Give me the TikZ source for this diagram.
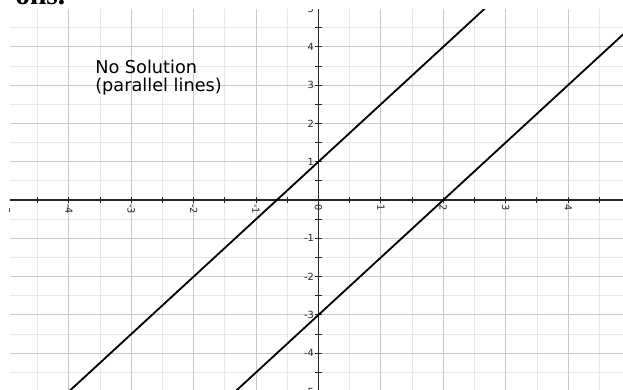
\documentclass[tikz,border=0pt]{standalone}
\usepackage{fontspec}
\setmainfont{Liberation Serif}
\newfontfamily\labelfont{DejaVu Sans}
\usetikzlibrary{positioning, calc}
\tikzset{
    minorgrid/.style={gray!18, line width=0.55pt},
    majorgrid/.style={gray!42, line width=0.7pt},
    axis/.style={black!85, line width=1.3pt},
    tickmark/.style={black!85, line width=0.6pt},
    graphline/.style={black, line width=1.3pt},
    ticklabel/.style={font=\labelfont\fontsize{7}{8}\selectfont, text=black!85, inner sep=0pt},
    note/.style={font=\labelfont\fontsize{12.6}{12.8}\selectfont, align=left, inner sep=0pt}
}

\begin{document}
\begin{tikzpicture}[x=1.56cm, y=0.9575cm]
        \useasboundingbox (-5.104,-4.935) rectangle (4.880,5.222);
        \clip (-5.104,-4.935) rectangle (4.880,5.222);
        \node [anchor=base west, inner sep=0pt, font=\bfseries\fontsize{21}{23}\selectfont] (pagetext) at (-4.864,5.10) {ons.};
        \begin{scope}
            \clip (-4.944,-4.935) rectangle (4.880,4.961);
            \foreach \x in {-5.5,-4.5,...,4.5} \draw [minorgrid] (\x,-6) -- (\x,6);
            \foreach \y in {-5.5,-4.5,...,5.5} \draw [minorgrid] (-6,\y) -- (6,\y);
            \foreach \x in {-5,...,5} \draw [majorgrid] (\x,-6) -- (\x,6);
            \foreach \y in {-5,...,5} \draw [majorgrid] (-6,\y) -- (6,\y);
            \draw [axis] (-6,0) -- (6,0);
            \draw [axis] (0,-6) -- (0,6);
            \foreach \x in {-5,-4.5,...,5} \draw [tickmark] (\x,-0.08) -- (\x,0.08);
            \foreach \y in {-5,-4.5,...,5} \draw [tickmark] (-0.05,\y) -- (0.05,\y);
            \foreach \x in {-5,...,4} \node [ticklabel, rotate=-90, anchor=west] (xl\x) at (\x,-0.1) {\x};
            \foreach \y in {-5,...,-1,1,2,...,5} \node [ticklabel, anchor=east] (yl\y) at (-0.07,\y) {\y};
            \draw [graphline] (-5,-6.5) -- (5,8.5);
            \draw [graphline] (-5,-10.5) -- (6,6);
        \end{scope}
        \node [note, anchor=base west] (answer) at (-3.582,2.820) {No Solution\\(parallel lines)};
\end{tikzpicture}
\end{document}
